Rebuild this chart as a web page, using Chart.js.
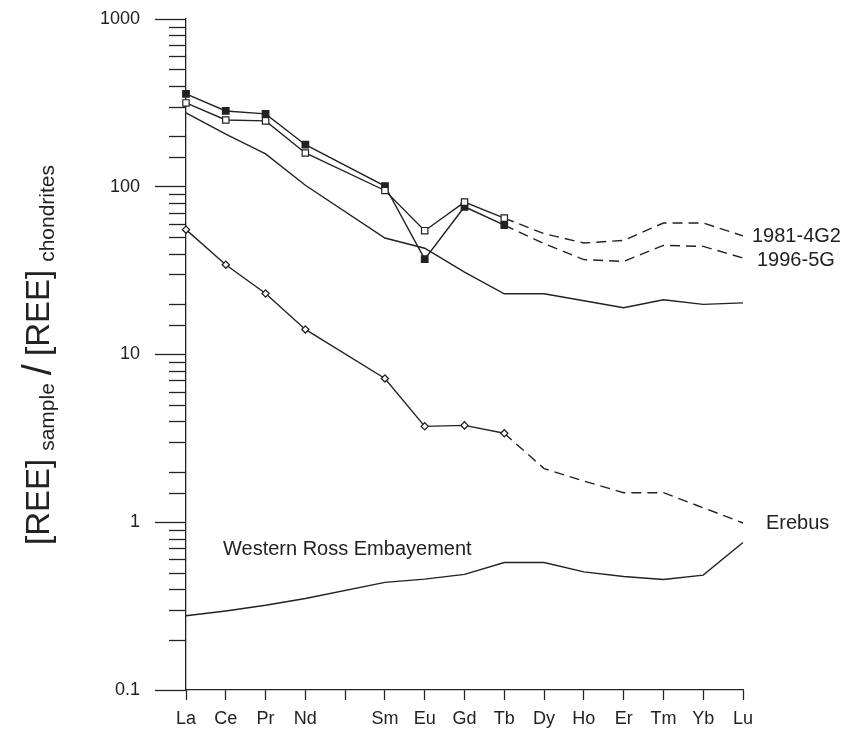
<!DOCTYPE html>
<html>
<head>
<meta charset="utf-8">
<script src="https://cdn.jsdelivr.net/npm/chart.js@4/dist/chart.umd.min.js"></script>
<style>
  html, body { margin: 0; padding: 0; background: #fff; }
  #wrap { width: 843px; height: 730px; position: relative; }
</style>
</head>
<body>
<div id="wrap"><canvas id="chart" width="843" height="730"></canvas></div>
<script>
// Data (chondrite-normalised REE), Pm left empty
const elements = ['La', 'Ce', 'Pr', 'Nd', '', 'Sm', 'Eu', 'Gd', 'Tb', 'Dy', 'Ho', 'Er', 'Tm', 'Yb', 'Lu'];
const sample1981 = [316, 250, 247, 159, null, 95, 54.7, 81, 65, 52.5, 46.2, 47.9, 60.8, 60.8, 51];
const sample1996 = [358, 283, 272, 178, null, 101, 37, 76, 59, 45.8, 36.8, 35.9, 44.7, 44.1, 37.6];
const referenceLine = [276, 206, 157, 102, null, 49.5, 43, 31, 23, 23, 20.9, 19, 21.2, 19.9, 20.3];
const erebus = [55.5, 34.3, 23.1, 14.1, null, 7.2, 3.73, 3.78, 3.39, 2.09, 1.76, 1.5, 1.5, 1.22, 0.99];
const westernRoss = [0.277, 0.296, 0.32, 0.351, null, 0.438, 0.458, 0.489, 0.575, 0.575, 0.506, 0.475, 0.456, 0.484, 0.757];
const yTickLabels = [0.1, 1, 10, 100, 1000];

const INK = '#222';
const FONT = '"Liberation Sans", Arial, sans-serif';
const TB = 8; // last measured point, dashed afterwards

const isMajor = v => yTickLabels.some(t => Math.abs(t - v) < t * 1e-6);
const dashAfterTb = ctx => ctx.p0DataIndex >= TB ? [10, 6] : [];
const markerUntilTb = r => ctx => ctx.dataIndex <= TB ? r : 0;

const baseLine = {
  borderColor: INK,
  borderWidth: 1.4,
  spanGaps: true,
  tension: 0,
  pointRadius: 0
};

const datasets = [
  Object.assign({}, baseLine, {
    label: '1981-4G2',
    data: sample1981,
    pointStyle: 'rect',
    pointRadius: markerUntilTb(4.5),
    pointBackgroundColor: '#fff',
    pointBorderColor: INK,
    pointBorderWidth: 1.2,
    segment: { borderDash: dashAfterTb }
  }),
  Object.assign({}, baseLine, {
    label: '1996-5G',
    data: sample1996,
    pointStyle: 'rect',
    pointRadius: markerUntilTb(4.5),
    pointBackgroundColor: INK,
    pointBorderColor: INK,
    segment: { borderDash: dashAfterTb }
  }),
  Object.assign({}, baseLine, { label: 'ref', data: referenceLine }),
  Object.assign({}, baseLine, {
    label: 'Erebus',
    data: erebus,
    pointStyle: 'rectRot',
    pointRadius: markerUntilTb(3.6),
    pointBackgroundColor: '#fff',
    pointBorderColor: INK,
    pointBorderWidth: 1.3,
    segment: { borderDash: dashAfterTb }
  }),
  Object.assign({}, baseLine, { label: 'Western Ross Embayement', data: westernRoss })
];

// minor y ticks, y title, curve labels
const decorations = {
  id: 'decorations',
  afterDraw(chart) {
    const { ctx, scales: { x, y } } = chart;
    ctx.save();
    ctx.strokeStyle = INK;
    ctx.lineWidth = 1.3;
    y.ticks.forEach(t => {
      if (isMajor(t.value)) return;
      const py = Math.round(y.getPixelForValue(t.value)) + 0.5;
      ctx.beginPath();
      ctx.moveTo(x.left - 17, py);
      ctx.lineTo(x.left, py);
      ctx.stroke();
    });

    // curve labels
    ctx.fillStyle = INK;
    ctx.font = '20px ' + FONT;
    ctx.textBaseline = 'middle';
    ctx.textAlign = 'left';
    const last = elements.length - 1;
    const xl = x.getPixelForValue(last);
    ctx.fillText('1981-4G2', xl + 9, y.getPixelForValue(sample1981[last]) + 1);
    ctx.fillText('1996-5G', xl + 14, y.getPixelForValue(sample1996[last]) + 2);
    ctx.fillText('Erebus', xl + 23, y.getPixelForValue(erebus[last]) + 1);
    ctx.fillText('Western Ross Embayement', x.getPixelForValue(0) + 37, y.getPixelForValue(0.69));

    // y axis title with subscripts
    const big = '33px ' + FONT;
    const sub = '21px ' + FONT;
    const slash = '40px ' + FONT;
    const parts = [
      { t: '[REE]', f: big, dy: 0 },
      { t: 'sample', f: sub, dy: 5 },
      { t: '/', f: slash, dy: 2 },
      { t: '[REE]', f: big, dy: 0 },
      { t: 'chondrites', f: sub, dy: 5 }
    ];
    const gap = 8;
    let total = 0;
    parts.forEach(p => { ctx.font = p.f; p.w = ctx.measureText(p.t).width; total += p.w; });
    total += gap * (parts.length - 1);
    ctx.translate(49, 355);
    ctx.rotate(-Math.PI / 2);
    ctx.textBaseline = 'alphabetic';
    let cx = -total / 2;
    parts.forEach(p => {
      ctx.font = p.f;
      ctx.fillText(p.t, cx, p.dy);
      cx += p.w + gap;
    });
    ctx.restore();
  }
};

new Chart(document.getElementById('chart'), {
  type: 'line',
  data: { labels: elements, datasets },
  plugins: [decorations],
  options: {
    responsive: false,
    animation: false,
    layout: { padding: { top: 19, right: 100, left: 0, bottom: 0 } },
    plugins: { legend: { display: false }, tooltip: { enabled: false } },
    scales: {
      x: {
        type: 'category',
        offset: false,
        afterFit: s => { s.height = 40; },
        border: { display: true, color: INK, width: 1.3 },
        grid: { drawOnChartArea: false, drawTicks: true, tickLength: 10, tickColor: INK, tickWidth: 1.3 },
        ticks: {
          color: INK,
          padding: 8,
          autoSkip: false,
          maxRotation: 0,
          font: { family: FONT, size: 18 }
        }
      },
      y: {
        type: 'logarithmic',
        min: 0.1,
        max: 1000,
        afterFit: s => { s.width = 186; s.paddingTop = 0; s.paddingBottom = 0; },
        border: { display: true, color: INK, width: 1.3 },
        grid: {
          drawOnChartArea: false,
          drawTicks: true,
          tickLength: 31,
          tickWidth: 1.3,
          tickColor: ctx => (ctx.tick && isMajor(ctx.tick.value)) ? INK : 'rgba(0,0,0,0)'
        },
        ticks: {
          color: INK,
          padding: 15,
          autoSkip: false,
          font: { family: FONT, size: 18 },
          callback: v => isMajor(v) ? String(v) : ''
        }
      }
    }
  }
});
</script>
</body>
</html>
